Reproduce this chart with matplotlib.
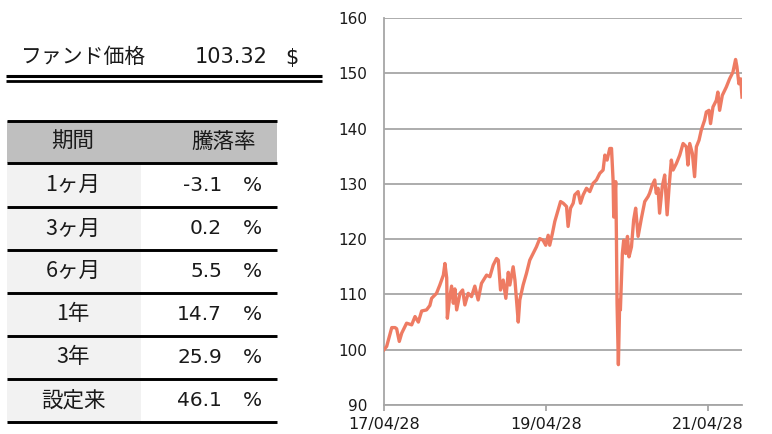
import matplotlib
matplotlib.use("Agg")
import matplotlib.pyplot as plt
import matplotlib.dates as mdates
import numpy as np
from datetime import datetime

# ---------------- data ----------------
fund_label = "ファンド価格"
fund_price = "103.32"
fund_unit = "$"

periods = ["1ヶ月", "3ヶ月", "6ヶ月", "1年", "3年", "設定来"]
returns = [-3.1, 0.2, 5.5, 14.7, 25.9, 46.1]
header = ["期間", "騰落率"]

dates = ["2017-04-28", "2017-05-10", "2017-06-02", "2017-06-17", "2017-06-24", "2017-07-06",
         "2017-07-17", "2017-08-08", "2017-08-31", "2017-09-15", "2017-09-30", "2017-10-15",
         "2017-11-06", "2017-11-21", "2017-11-29", "2017-12-21", "2018-01-05", "2018-01-21",
         "2018-01-28", "2018-02-05", "2018-02-08", "2018-02-17", "2018-02-27", "2018-03-07",
         "2018-03-14", "2018-03-22", "2018-04-06", "2018-04-18", "2018-04-28", "2018-05-13",
         "2018-05-28", "2018-06-12", "2018-06-27", "2018-07-12", "2018-08-04", "2018-08-19",
         "2018-09-03", "2018-09-18", "2018-09-26", "2018-10-06", "2018-10-18", "2018-10-30",
         "2018-11-10", "2018-11-17", "2018-12-02", "2018-12-10", "2018-12-25", "2019-01-01",
         "2019-01-16", "2019-01-31", "2019-02-15", "2019-03-02", "2019-03-17", "2019-04-01",
         "2019-04-16", "2019-04-28", "2019-05-09", "2019-05-16", "2019-05-28", "2019-06-08",
         "2019-06-23", "2019-07-04", "2019-07-16", "2019-07-31", "2019-08-07", "2019-08-18",
         "2019-08-30", "2019-09-06", "2019-09-21", "2019-10-02", "2019-10-14", "2019-10-29",
         "2019-11-13", "2019-11-28", "2019-12-13", "2019-12-28", "2020-01-12", "2020-01-20",
         "2020-01-30", "2020-02-11", "2020-02-19", "2020-02-26", "2020-02-29", "2020-03-09",
         "2020-03-12", "2020-03-15", "2020-03-21", "2020-03-27", "2020-03-30", "2020-04-04",
         "2020-04-08", "2020-04-14", "2020-04-23", "2020-05-01", "2020-05-08", "2020-05-19",
         "2020-05-29", "2020-06-07", "2020-06-18", "2020-07-03", "2020-07-18", "2020-08-02",
         "2020-08-09", "2020-08-21", "2020-09-01", "2020-09-08", "2020-09-16", "2020-09-23",
         "2020-10-05", "2020-10-16", "2020-10-27", "2020-11-05", "2020-11-15", "2020-11-23",
         "2020-12-08", "2020-12-23", "2021-01-07", "2021-01-22", "2021-01-29", "2021-02-06",
         "2021-02-18", "2021-02-28", "2021-03-08", "2021-03-20", "2021-03-30", "2021-04-14",
         "2021-04-22", "2021-05-04", "2021-05-11", "2021-05-22", "2021-06-06", "2021-06-13",
         "2021-06-21", "2021-07-03", "2021-07-21", "2021-08-05", "2021-08-20", "2021-09-01",
         "2021-09-07", "2021-09-16", "2021-09-24", "2021-09-30"]

values = [100.0, 100.6, 104.0, 104.0, 103.8, 101.5,
          103.0, 104.8, 104.5, 106.0, 105.0, 107.0,
          107.2, 108.0, 109.3, 110.2, 111.7, 113.5,
          115.6, 113.0, 105.7, 109.0, 111.5, 108.4,
          111.0, 107.2, 110.2, 110.8, 108.1, 110.2,
          109.6, 111.5, 109.0, 112.0, 113.5, 113.2,
          115.3, 116.5, 116.2, 110.8, 112.6, 109.3,
          114.0, 111.7, 115.0, 112.6, 105.0, 109.0,
          111.7, 113.8, 116.2, 117.4, 118.6, 120.1,
          119.8, 118.9, 120.7, 118.9, 121.0, 123.2,
          125.3, 126.8, 126.5, 125.9, 122.3, 125.6,
          126.5, 128.0, 128.6, 126.5, 128.0, 129.2,
          128.6, 130.1, 130.7, 131.9, 132.5, 135.2,
          134.3, 136.4, 136.4, 130.7, 124.0, 130.4,
          121.0, 108.4, 97.3, 109.0, 107.2, 112.6,
          117.4, 119.8, 117.4, 120.5, 116.8, 118.6,
          123.5, 125.6, 120.5, 123.8, 126.8, 127.7,
          128.3, 129.8, 130.7, 128.3, 129.2, 124.7,
          129.5, 131.6, 124.4, 129.5, 134.3, 132.5,
          133.7, 135.2, 137.3, 136.7, 133.4, 137.3,
          135.5, 131.3, 136.7, 137.9, 139.7, 141.5,
          143.0, 143.3, 140.9, 143.9, 145.1, 146.6,
          143.3, 146.0, 147.5, 149.0, 150.2, 152.5,
          151.2, 148.1, 149.0, 145.7]

x_start = "2017-04-28"
x_end = "2021-09-30"
x_tick_dates = ["2017-04-28", "2019-04-28", "2021-04-28"]
x_tick_labels = ["17/04/28", "19/04/28", "21/04/28"]
y_ticks = [90, 100, 110, 120, 130, 140, 150, 160]

# ---------------- figure ----------------
W, H = 772, 434
fig = plt.figure(figsize=(W / 100, H / 100), dpi=100)

JP = ["Noto Sans CJK JP", "DejaVu Sans"]
NUM = ["DejaVu Sans", "Noto Sans CJK JP"]
TXT = "#1a1a1a"

# left panel in pixel coordinates
lp = fig.add_axes([0, 0, 1, 1])
lp.set_xlim(0, W)
lp.set_ylim(H, 0)
lp.axis("off")

lp.text(21, 57, fund_label, family=JP, fontsize=15, color=TXT, ha="left", va="center")
lp.text(268, 57, fund_price, family=NUM, fontsize=15, color=TXT, ha="right", va="center")
lp.text(292, 58, fund_unit, family=NUM, fontsize=15, color=TXT, ha="center", va="center")
lp.plot([6, 322], [75.8, 75.8], color="black", lw=2.2, solid_capstyle="butt")
lp.plot([6, 322], [80.7, 80.7], color="black", lw=2.0, solid_capstyle="butt")

tl, tr, tm = 7, 277, 141
row_lines = [121, 163.3, 207.3, 250, 292.7, 335.7, 378.7, 421.7]
lp.add_patch(plt.Rectangle((tl, row_lines[0]), tr - tl, row_lines[1] - row_lines[0],
                           color="#BFBFBF", lw=0))
lp.add_patch(plt.Rectangle((tl, row_lines[1]), tm - tl, row_lines[-1] - row_lines[1],
                           color="#F2F2F2", lw=0))
for yl in row_lines:
    lp.plot([tl, tr], [yl, yl], color="black", lw=2.1, solid_capstyle="butt")

hc = (row_lines[0] + row_lines[1]) / 2
lp.text(73, hc, header[0], family=JP, fontsize=15.5, color=TXT, ha="center", va="center")
lp.text(224, hc, header[1], family=JP, fontsize=15.5, color=TXT, ha="center", va="center")
for i, (p, r) in enumerate(zip(periods, returns)):
    yc = (row_lines[i + 1] + row_lines[i + 2]) / 2
    lp.text(73, yc, p, family=JP, fontsize=15.5, color=TXT, ha="center", va="center")
    lp.text(222, yc, f"{r:.1f}", family=NUM, fontsize=14.5, color=TXT, ha="right", va="center")
    lp.text(252, yc, "%", family=NUM, fontsize=14.5, color=TXT, ha="center", va="center")

# chart
ax = fig.add_axes([384 / W, 1 - 405 / H, (742 - 384) / W, (405 - 18) / H])
d = [datetime.strptime(s, "%Y-%m-%d") for s in dates]
ax.plot(d, values, color="#EE7B63", lw=2.4, solid_joinstyle="round", zorder=3)
ax.set_xlim(datetime.strptime(x_start, "%Y-%m-%d"), datetime.strptime(x_end, "%Y-%m-%d"))
ax.set_ylim(90, 160)
ax.set_yticks(y_ticks)
ax.set_xticks([datetime.strptime(s, "%Y-%m-%d") for s in x_tick_dates])
ax.set_xticklabels(x_tick_labels)
ax.yaxis.grid(True, color="#A6A6A6", lw=1.3)
ax.set_axisbelow(True)
for s in ["top", "right"]:
    ax.spines[s].set_visible(False)
for s in ["left", "bottom"]:
    ax.spines[s].set_color("#A6A6A6")
    ax.spines[s].set_linewidth(1.3)
ax.tick_params(axis="y", length=0, pad=12, labelsize=11, labelcolor=TXT)
ax.tick_params(axis="x", length=4, color="#A6A6A6", width=1.3, pad=5, labelsize=11.5, labelcolor=TXT)

fig.savefig("out.png", dpi=100)
